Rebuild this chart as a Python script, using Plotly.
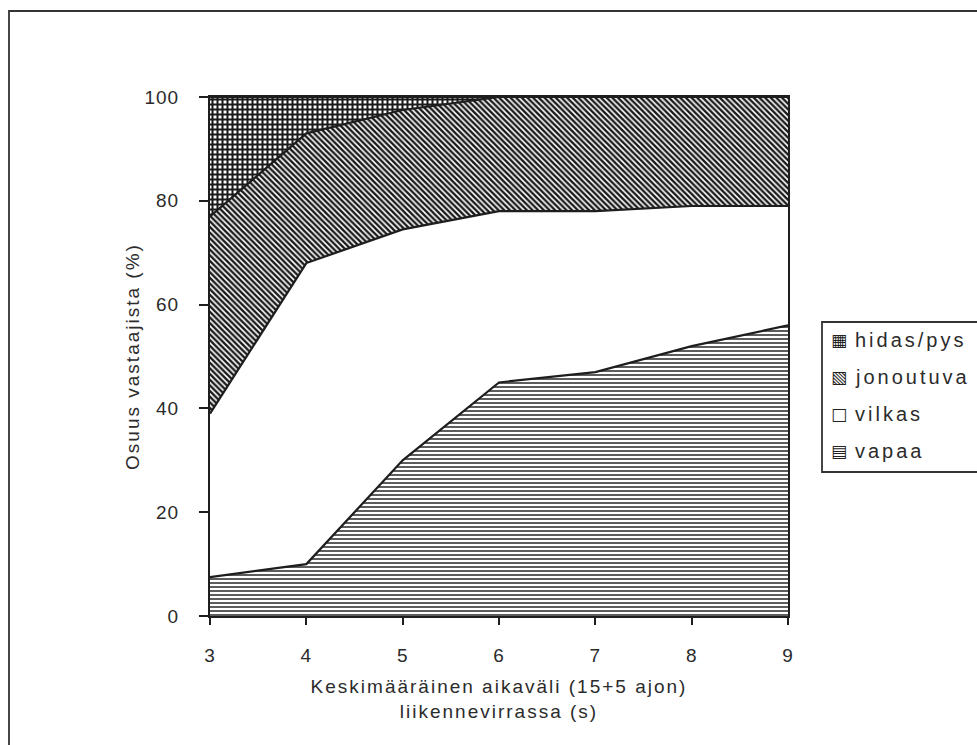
import plotly.graph_objects as go

# ---- data ----
aikavali = [3, 4, 5, 6, 7, 8, 9]
vapaa = [7.5, 10, 30, 45, 47, 52, 56]
vilkas = [31.5, 58, 44.5, 33, 31, 27, 23]
jonoutuva = [38, 25, 23, 22, 22, 21, 21]
hidas = [23, 7, 2.5, 0, 0, 0, 0]

series_names = ["vapaa", "vilkas", "jonoutuva", "hidas/pys"]
y_ticks = [0, 20, 40, 60, 80, 100]
x_ticks = [3, 4, 5, 6, 7, 8, 9]

W, H = 977, 745
L, R, T, B = 210, 189, 97, 129
PW, PH = W - L - R, H - T - B

def px(xp):
    return (xp - L) / PW

def py(yp):
    return (H - B - yp) / PH

FONT = "Liberation Sans, Arial, sans-serif"
TXT = "#2b2b2b"
LINE = "#1e1e1e"

def sp(s, ls=2):
    return f'<span style="letter-spacing:{ls}px">{s}</span>'

fig = go.Figure()

patterns = [
    dict(shape="-", size=4, solidity=0.4, fgcolor="#333333", fgopacity=1, bgcolor="white"),
    None,
    dict(shape="\\", size=4, solidity=0.6, fgcolor="#1a1a1a", fgopacity=1, bgcolor="white"),
    dict(shape="+", size=5, solidity=0.65, fgcolor="#1a1a1a", fgopacity=1, bgcolor="white"),
]
data = [vapaa, vilkas, jonoutuva, hidas]
for name, vals, pat in zip(series_names, data, patterns):
    kw = dict(
        x=aikavali, y=vals, name=name, mode="lines", stackgroup="one",
        line=dict(color=LINE, width=2.2), fillcolor="white",
        showlegend=False, hoverinfo="x+y+name",
    )
    if pat is not None:
        kw["fillpattern"] = pat
    fig.add_trace(go.Scatter(**kw))

fig.update_layout(
    width=W, height=H,
    margin=dict(l=L, r=R, t=T, b=B, autoexpand=False),
    paper_bgcolor="white", plot_bgcolor="white",
    font=dict(family=FONT, size=19, color=TXT),
    showlegend=False,
    xaxis=dict(
        range=[3, 9], tickvals=x_ticks, ticktext=[sp(str(v), 1) for v in x_ticks],
        showgrid=False, zeroline=False, showline=True, linecolor=LINE, linewidth=2,
        mirror=True, ticks="outside", ticklen=7, tickcolor=LINE, tickwidth=1.6,
        ticklabelstandoff=14,
        title=dict(text=sp("Keskimääräinen aikaväli (15+5 ajon)") + "<br>" + sp("liikennevirrassa (s)"),
                   font=dict(size=19, color=TXT), standoff=15),
    ),
    yaxis=dict(
        range=[0, 100], tickvals=y_ticks, ticktext=[sp(str(v), 1) for v in y_ticks],
        showgrid=False, zeroline=False, showline=True, linecolor=LINE, linewidth=2,
        mirror=True, ticks="outside", ticklen=9, tickcolor=LINE, tickwidth=1.6,
        ticklabelstandoff=16,
        title=dict(text=sp("Osuus vastaajista (%)", 2), font=dict(size=19, color=TXT), standoff=0),
    ),
)

# outer frame
fig.add_shape(type="rect", xref="paper", yref="paper",
              x0=px(9), y0=py(760), x1=px(990), y1=py(11),
              line=dict(color="#333333", width=1.8), fillcolor="rgba(0,0,0,0)", layer="below")

# legend box
fig.add_shape(type="rect", xref="paper", yref="paper",
              x0=px(822), y0=py(472), x1=px(990), y1=py(322),
              line=dict(color="#333333", width=1.8), fillcolor="white")

legend_items = [("▦", "hidas/pys", 340), ("▧", "jonoutuva", 377),
                ("□", "vilkas", 414), ("▤", "vapaa", 451)]
for glyph, label, yy in legend_items:
    fig.add_annotation(x=px(829), y=py(yy), xref="paper", yref="paper", text=glyph,
                       showarrow=False, xanchor="left", yanchor="middle",
                       font=dict(family="DejaVu Sans", size=17, color="#222222"))
    fig.add_annotation(x=px(853), y=py(yy), xref="paper", yref="paper", text=sp(label, 3),
                       showarrow=False, xanchor="left", yanchor="middle",
                       font=dict(family=FONT, size=20, color=TXT))

fig.write_html("out.html")
